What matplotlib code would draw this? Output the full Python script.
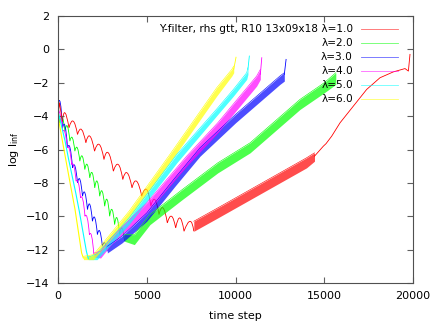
import matplotlib
matplotlib.use("Agg")
import matplotlib.pyplot as plt
from matplotlib.path import Path
from matplotlib.patches import PathPatch
import numpy as np

plt.rcParams['font.family'] = 'DejaVu Sans'
plt.rcParams['font.size'] = 8

# ---- data (time step, log l_inf) ----
labels = ['Y-filter, rhs gtt, R10 13x09x18 λ=1.0', 'λ=2.0', 'λ=3.0', 'λ=4.0', 'λ=5.0', 'λ=6.0']
colors = ['#ff0000', '#00ff00', '#0000ff', '#ff00ff', '#00ffff', '#ffff00']

# lambda = 1.0
red_start_x = [0, 80, 250]
red_start_y = [-4.1, -3.2, -4.3]
red_dip_x = [250, 620, 1100, 1570, 2060, 2590, 3120, 3650, 4170, 4720, 5230, 5690, 6160, 6630, 7100, 7650]
red_dip_y = [-4.3, -4.7, -5.1, -5.6, -6.1, -6.6, -7.3, -7.8, -8.3, -8.8, -9.4, -9.9, -10.4, -10.7, -10.9, -10.9]
red_peak_x = [400, 860, 1330, 1800, 2330, 2840, 3400, 3900, 4430, 5000, 5460, 5920, 6400, 6870, 7440]
red_peak_y = [-3.8, -4.3, -4.8, -5.2, -5.7, -6.2, -6.9, -7.4, -7.9, -8.4, -9.0, -9.5, -10.0, -10.1, -10.3]
red_band_x = [7650, 9000, 10000, 11000, 12000, 13000, 14000, 14450]
red_band_hi = [-10.3, -9.5, -8.9, -8.3, -7.7, -7.1, -6.5, -6.2]
red_band_lo = [-10.9, -10.1, -9.5, -8.9, -8.3, -7.7, -7.1, -6.7]
red_tail_x = [14450, 14950, 15100, 15420, 15890, 16640, 17390, 18140, 18890, 19550, 19740, 19830]
red_tail_y = [-6.4, -5.8, -5.65, -5.2, -4.4, -3.4, -2.4, -1.7, -1.35, -1.15, -1.3, -0.3]

# lambda = 2.0
green_start_x = [0, 100]
green_start_y = [-3.6, -4.4]
green_dip_x = [100, 390, 670, 950, 1230, 1510, 1790, 2070, 2350, 2630, 2910, 3190, 3470, 3750]
green_dip_y = [-4.4, -4.9, -5.5, -6.1, -6.7, -7.2, -7.7, -8.3, -8.8, -9.4, -10.0, -10.5, -11.1, -11.5]
green_peak_x = [250, 530, 810, 1090, 1370, 1650, 1930, 2210, 2490, 2770, 3050, 3330, 3610]
green_peak_y = [-4.1, -4.6, -5.3, -5.9, -6.4, -6.9, -7.4, -7.9, -8.5, -9.0, -9.6, -10.1, -10.7]
green_band_x = [3750, 4300, 5180, 7000, 9000, 10820, 13630, 15000, 15650]
green_band_hi = [-11.1, -11.1, -9.9, -8.4, -6.8, -5.6, -3.0, -2.0, -1.4]
green_band_lo = [-11.5, -11.7, -10.5, -9.0, -7.4, -6.2, -3.6, -2.6, -2.1]

# lambda = 3.0
blue_dip_x = [0, 260, 540, 820, 1100, 1380, 1660, 1940, 2220, 2500, 2780]
blue_dip_y = [-3.3, -4.7, -5.9, -7.1, -8.0, -8.8, -9.6, -10.3, -11.1, -11.8, -12.1]
blue_peak_x = [130, 400, 680, 960, 1240, 1520, 1800, 2080, 2360, 2640]
blue_peak_y = [-3.2, -4.6, -5.9, -7.0, -7.8, -8.6, -9.3, -10.1, -10.9, -11.6]
blue_band_x = [2780, 3600, 5000, 6590, 8000, 10000, 12500, 12750]
blue_band_hi = [-11.8, -11.2, -9.8, -7.7, -5.9, -3.9, -1.6, -1.4]
blue_band_lo = [-12.2, -11.6, -10.3, -8.2, -6.4, -4.4, -2.1, -1.9]
blue_tail_x = [12750, 12850]
blue_tail_y = [-1.5, -0.6]

# lambda = 4.0
mag_dip_x = [0, 270, 520, 770, 1020, 1270, 1520, 1770, 2020]
mag_dip_y = [-3.6, -4.9, -5.9, -6.9, -7.9, -8.9, -10.0, -11.1, -12.3]
mag_peak_x = [150, 400, 650, 900, 1150, 1400, 1650, 1900]
mag_peak_y = [-4.0, -5.0, -6.0, -7.0, -8.0, -9.0, -10.1, -11.2]
mag_band_x = [2020, 2400, 3000, 5000, 7250, 9000, 11190, 11400]
mag_band_hi = [-12.2, -12.1, -11.3, -9.2, -6.4, -4.4, -1.6, -1.2]
mag_band_lo = [-12.45, -12.5, -11.7, -9.8, -7.0, -5.0, -2.2, -1.8]
mag_tail_x = [11400, 11480]
mag_tail_y = [-1.5, -0.5]

# lambda = 5.0
cyan_x = [0, 200, 400, 600, 800, 1000, 1200, 1400, 1600, 1710]
cyan_y = [-3.7, -4.6, -5.5, -6.6, -7.6, -8.6, -9.7, -10.9, -12.1, -12.55]
cyan_band_x = [1710, 2200, 4000, 6690, 9000, 9880, 10630, 10700]
cyan_band_hi = [-12.45, -12.25, -10.1, -6.3, -3.5, -2.4, -1.4, -1.1]
cyan_band_lo = [-12.6, -12.6, -10.5, -6.8, -3.9, -2.8, -1.8, -1.5]
cyan_tail_x = [10700, 10780]
cyan_tail_y = [-1.2, -0.4]

# lambda = 6.0
yel_x = [0, 300, 680, 960, 1330, 1430]
yel_y = [-4.0, -5.8, -8.0, -9.6, -12.2, -12.5]
yel_band_x = [1430, 2000, 4000, 6300, 8940, 9790, 9900]
yel_band_hi = [-12.4, -12.3, -9.7, -6.3, -2.3, -1.2, -1.0]
yel_band_lo = [-12.6, -12.6, -10.1, -6.8, -2.8, -1.6, -1.4]
yel_tail_x = [9900, 10030]
yel_tail_y = [-1.2, -0.47]


# arches: quadratic bezier from dip to dip passing through the peak
def arches(ax, dx, dy, px, py, color):
    verts = [(dx[0], dy[0])]
    codes = [Path.MOVETO]
    for i in range(len(px)):
        cx = 2 * px[i] - (dx[i] + dx[i + 1]) / 2
        cy = 2 * py[i] - (dy[i] + dy[i + 1]) / 2
        verts += [(cx, cy), (dx[i + 1], dy[i + 1])]
        codes += [Path.CURVE3, Path.CURVE3]
    ax.add_patch(PathPatch(Path(verts, codes), fill=False, edgecolor=color, lw=0.6))


def band(ax, x, lo, hi, color):
    ax.fill_between(x, lo, hi, color=color, alpha=0.7, lw=0)
    ax.plot(x, hi, color=color, lw=0.4)


fig = plt.figure(figsize=(4.36, 3.27), dpi=100)
ax = fig.add_axes([58 / 436, 44 / 327, 355 / 436, 267 / 327])

# red
ax.plot(red_start_x, red_start_y, color=colors[0], lw=0.6)
arches(ax, red_dip_x, red_dip_y, red_peak_x, red_peak_y, colors[0])
band(ax, red_band_x, red_band_lo, red_band_hi, colors[0])
ax.plot(red_tail_x, red_tail_y, color=colors[0], lw=0.6)
# green
ax.plot(green_start_x, green_start_y, color=colors[1], lw=0.6)
arches(ax, green_dip_x, green_dip_y, green_peak_x, green_peak_y, colors[1])
band(ax, green_band_x, green_band_lo, green_band_hi, colors[1])
# blue
arches(ax, blue_dip_x, blue_dip_y, blue_peak_x, blue_peak_y, colors[2])
band(ax, blue_band_x, blue_band_lo, blue_band_hi, colors[2])
ax.plot(blue_tail_x, blue_tail_y, color=colors[2], lw=0.6)
# magenta
arches(ax, mag_dip_x, mag_dip_y, mag_peak_x, mag_peak_y, colors[3])
band(ax, mag_band_x, mag_band_lo, mag_band_hi, colors[3])
ax.plot(mag_tail_x, mag_tail_y, color=colors[3], lw=0.6)
# cyan
ax.plot(cyan_x, cyan_y, color=colors[4], lw=0.8)
band(ax, cyan_band_x, cyan_band_lo, cyan_band_hi, colors[4])
ax.plot(cyan_tail_x, cyan_tail_y, color=colors[4], lw=0.6)
# yellow
ax.plot(yel_x, yel_y, color=colors[5], lw=0.8)
band(ax, yel_band_x, yel_band_lo, yel_band_hi, colors[5])
ax.plot(yel_tail_x, yel_tail_y, color=colors[5], lw=0.6)

# gnuplot style key, text right aligned left of the sample
for i in range(len(labels)):
    yk = 0.951 - i * 0.0524
    ax.text(0.831, yk, labels[i], transform=ax.transAxes, ha='right', va='center', fontsize=7.6)
    ax.plot([0.854, 0.958], [yk, yk], transform=ax.transAxes, color=colors[i], lw=0.6, alpha=0.6)

ax.set_xlim(0, 20000)
ax.set_ylim(-14, 2)
ax.set_xticks(np.arange(0, 20001, 5000))
ax.set_yticks(np.arange(-14, 3, 2))
ax.tick_params(direction='in', top=True, right=True, length=4, width=0.8,
               color='#606060', labelsize=8)
ax.tick_params(axis='x', pad=6)
ax.tick_params(axis='y', pad=6)
for s in ax.spines.values():
    s.set_color('#505050')
    s.set_linewidth(0.8)

ax.set_xlabel('time step', labelpad=7)
ax.set_ylabel(r'log l$_{\mathregular{inf}}$', labelpad=4)

fig.savefig('out.png', dpi=100)
